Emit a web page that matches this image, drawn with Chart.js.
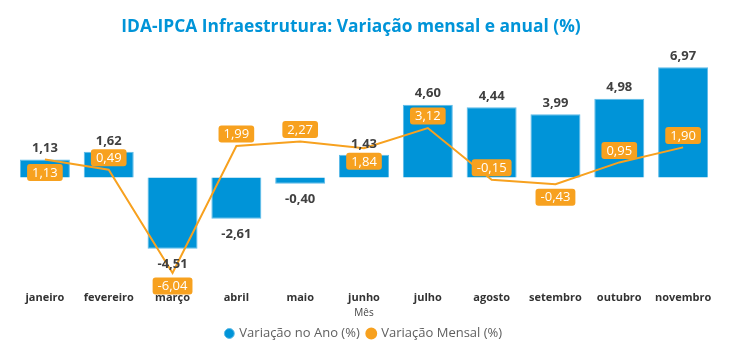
<!DOCTYPE html>
<html>
<head>
<meta charset="utf-8">
<script src="https://cdn.jsdelivr.net/npm/chart.js@4"></script>
<style>
html,body{margin:0;padding:0;background:#fff;}
#wrap{width:750px;height:355px;position:relative;}
</style>
</head>
<body>
<div id="wrap"><canvas id="c"></canvas></div>
<script>
const meses = ['janeiro','fevereiro','março','abril','maio','junho','julho','agosto','setembro','outubro','novembro'];
const variacaoAno = [1.13, 1.62, -4.51, -2.61, -0.40, 1.43, 4.60, 4.44, 3.99, 4.98, 6.97];
const variacaoMensal = [1.13, 0.49, -6.04, 1.99, 2.27, 1.84, 3.12, -0.15, -0.43, 0.95, 1.90];
const mensalLabelSide = ['below','above','below','above','above','below','above','above','below','above','above'];
const tituloGrafico = 'IDA-IPCA Infraestrutura: Variação mensal e anual (%)';

const BLUE = '#0094D8';
const ORANGE = '#F7A11F';
const FONT = "'Open Sans', 'Noto Sans', sans-serif";
const fmt = v => v.toFixed(2).replace('.', ',');

const titlePlugin = {
  id: 'customTitle',
  afterDraw(chart) {
    const ctx = chart.ctx;
    ctx.save();
    ctx.font = "bold 17.4px " + FONT;
    ctx.fillStyle = BLUE;
    ctx.textAlign = 'center';
    ctx.textBaseline = 'middle';
    ctx.fillText(tituloGrafico, 351, 27);
    ctx.restore();
  }
};

const labelPlugin = {
  id: 'valueLabels',
  afterDatasetsDraw(chart) {
    const ctx = chart.ctx;
    ctx.save();
    const barMeta = chart.getDatasetMeta(0);
    ctx.font = "bold 13px " + FONT;
    ctx.fillStyle = '#404040';
    ctx.textAlign = 'center';
    ctx.textBaseline = 'middle';
    barMeta.data.forEach((el, i) => {
      const v = variacaoAno[i];
      const y = v >= 0 ? el.y - 11 : el.y + 16;
      ctx.fillText(fmt(v), el.x, y);
    });
    const lineMeta = chart.getDatasetMeta(1);
    ctx.font = "13px " + FONT;
    lineMeta.data.forEach((el, i) => {
      const t = fmt(variacaoMensal[i]);
      const w = ctx.measureText(t).width + 10;
      const h = 17;
      const cy = mensalLabelSide[i] === 'above' ? el.y - 12 : el.y + 13;
      ctx.fillStyle = ORANGE;
      ctx.beginPath();
      ctx.roundRect(el.x - w / 2, cy - h / 2, w, h, 3);
      ctx.fill();
      ctx.fillStyle = '#ffffff';
      ctx.fillText(t, el.x, cy + 0.5);
    });
    ctx.restore();
  }
};

new Chart(document.getElementById('c'), {
  data: {
    labels: meses,
    datasets: [
      {
        type: 'bar',
        label: 'Variação no Ano (%)',
        data: variacaoAno,
        backgroundColor: BLUE,
        borderColor: '#5DBBE8',
        borderWidth: 1,
        barPercentage: 0.88,
        categoryPercentage: 0.89,
        order: 1
      },
      {
        type: 'line',
        label: 'Variação Mensal (%)',
        data: variacaoMensal,
        borderColor: ORANGE,
        backgroundColor: ORANGE,
        borderWidth: 2,
        pointRadius: 0,
        tension: 0,
        order: 0
      }
    ]
  },
  options: {
    responsive: true,
    maintainAspectRatio: false,
    animation: false,
    layout: { padding: { left: 13, right: 35, top: 58, bottom: 5 } },
    plugins: {
      title: { display: false },
      legend: {
        position: 'bottom',
        reverse: true,
        labels: {
          usePointStyle: true,
          pointStyle: 'circle',
          boxWidth: 7,
          boxHeight: 7,
          padding: 8,
          color: '#606060',
          font: { family: FONT, size: 13 }
        }
      },
      tooltip: { enabled: false }
    },
    scales: {
      x: {
        grid: { display: false, drawTicks: false },
        border: { display: false },
        ticks: { color: '#333', font: { family: FONT, size: 11, weight: 'bold' }, padding: 2 },
        title: { display: true, text: 'Mês', color: '#444', font: { family: FONT, size: 10 }, padding: { top: 1, bottom: 0 } }
      },
      y: {
        display: false,
        min: -7.04,
        max: 7.55
      }
    }
  },
  plugins: [labelPlugin, titlePlugin]
});
</script>
</body>
</html>
